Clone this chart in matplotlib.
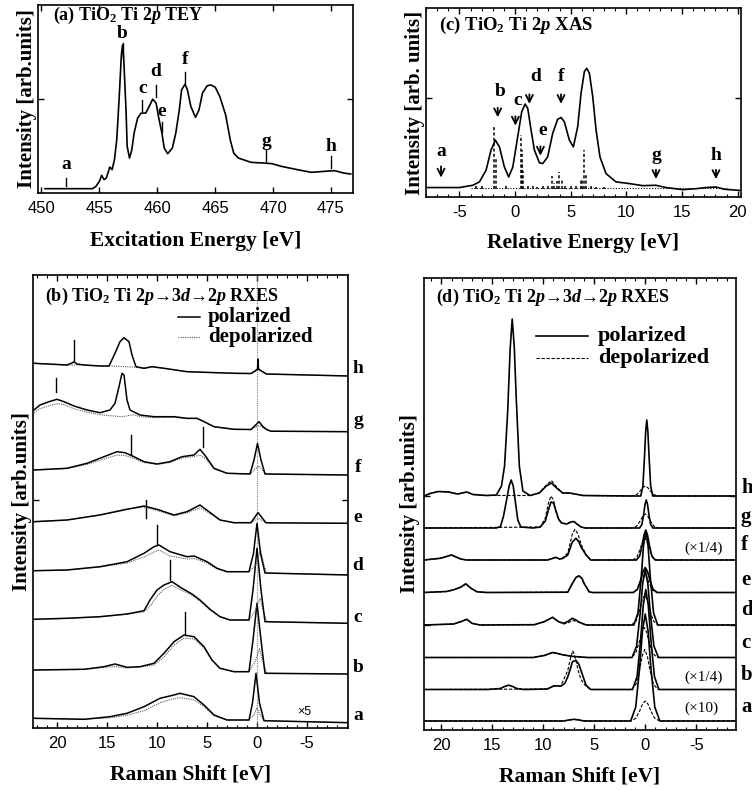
import matplotlib
matplotlib.use('Agg')
import matplotlib.pyplot as plt
import matplotlib.transforms as mtrans

plt.rcParams['font.family'] = ['Liberation Serif', 'DejaVu Serif']
plt.rcParams['mathtext.fontset'] = 'custom'
plt.rcParams['mathtext.rm'] = 'Liberation Serif:bold'
plt.rcParams['mathtext.it'] = 'Liberation Serif:italic:bold'
plt.rcParams['mathtext.bf'] = 'Liberation Serif:bold'
plt.rcParams['axes.unicode_minus'] = False

# ---------------- (a) TEY spectrum: (energy, intensity) ----------------
tey_pts = [(450.3, 0.023), (454.4, 0.023), (454.7, 0.035), (455.0, 0.062), (455.2, 0.094),
           (455.4, 0.071), (455.6, 0.080), (455.9, 0.138), (456.1, 0.124), (456.3, 0.177),
           (456.5, 0.283), (456.7, 0.496), (456.9, 0.735), (457.0, 0.788), (457.1, 0.717),
           (457.3, 0.442), (457.4, 0.248), (457.6, 0.186), (457.8, 0.230), (458.0, 0.319),
           (458.3, 0.398), (458.6, 0.425), (459.0, 0.425), (459.3, 0.460), (459.6, 0.499),
           (459.9, 0.478), (460.1, 0.407), (460.4, 0.319), (460.6, 0.239), (460.9, 0.209),
           (461.3, 0.239), (461.6, 0.319), (461.9, 0.442), (462.1, 0.549), (462.4, 0.579),
           (462.6, 0.549), (462.9, 0.460), (463.3, 0.402), (463.6, 0.442), (463.9, 0.531),
           (464.3, 0.570), (464.6, 0.575), (465.0, 0.563), (465.4, 0.513), (465.9, 0.416),
           (466.3, 0.283), (466.6, 0.212), (467.0, 0.186), (468.1, 0.163), (469.3, 0.159),
           (469.9, 0.156), (470.7, 0.142), (472.1, 0.124), (473.3, 0.110), (474.4, 0.115),
           (475.3, 0.119), (476.1, 0.106), (476.7, 0.101)]
# letter, x, label y, tick bottom, tick top
tey_marks = [('a', 452.1, 0.15, 0.035, 0.08), ('b', 457.0, 0.85, 0.72, 0.80),
             ('c', 458.7, 0.557, 0.434, 0.496), ('d', 459.9, 0.646, 0.51, 0.575),
             ('e', 460.4, 0.434, 0.322, 0.38), ('f', 462.4, 0.708, 0.584, 0.646),
             ('g', 469.4, 0.274, 0.168, 0.23), ('h', 475.0, 0.248, 0.133, 0.195)]

# ---------------- (c) XAS calculation ----------------
xas_pts = [(-7.84, 0.050), (-5.0, 0.050), (-3.8, 0.062), (-3.2, 0.080), (-2.6, 0.142),
           (-2.16, 0.248), (-1.77, 0.301), (-1.4, 0.265), (-0.96, 0.159), (-0.57, 0.106),
           (-0.2, 0.159), (0.24, 0.319), (0.6, 0.451), (0.9, 0.492), (1.14, 0.469),
           (1.44, 0.354), (1.74, 0.248), (2.19, 0.181), (2.49, 0.177), (2.93, 0.212),
           (3.38, 0.336), (3.83, 0.411), (4.13, 0.421), (4.43, 0.398), (4.88, 0.301),
           (5.24, 0.265), (5.63, 0.372), (5.93, 0.549), (6.23, 0.664), (6.44, 0.681),
           (6.68, 0.655), (6.98, 0.531), (7.28, 0.354), (7.63, 0.212), (8.17, 0.124),
           (9.07, 0.080), (10.27, 0.071), (11.47, 0.060), (12.66, 0.062), (13.56, 0.050),
           (15.06, 0.039), (16.26, 0.044), (17.16, 0.050), (18.05, 0.053), (18.8, 0.041),
           (20.15, 0.035)]
stick_pos = [-3.5, -3.0, -1.85, -1.75, -0.8, 0.5, 0.58, 0.66, 0.74, 1.2, 1.6, 2.0, 2.5, 3.0,
             3.35, 3.5, 3.8, 3.95, 4.2, 4.5, 5.0, 5.5, 5.9, 6.05, 6.2, 6.35, 6.8, 7.3, 8.0]
stick_top = [0.062, 0.066, 0.37, 0.21, 0.062, 0.33, 0.25, 0.19, 0.14, 0.058, 0.056, 0.055,
             0.058, 0.06, 0.11, 0.075, 0.085, 0.13, 0.09, 0.07, 0.06, 0.062, 0.09, 0.10,
             0.25, 0.12, 0.06, 0.055, 0.052]
stick_base = 0.044
# letter, x, label x, label y, arrow tail, arrow tip
xas_marks = [('a', -6.65, -6.65, 0.239, 0.177, 0.088), ('b', -1.56, -1.35, 0.558, 0.487, 0.407),
             ('c', 0.03, 0.24, 0.513, 0.442, 0.363), ('d', 1.29, 1.83, 0.637, 0.558, 0.478),
             ('e', 2.28, 2.49, 0.354, 0.283, 0.204), ('f', 4.13, 4.13, 0.637, 0.558, 0.478),
             ('g', 12.66, 12.66, 0.221, 0.159, 0.08), ('h', 18.05, 18.05, 0.221, 0.159, 0.08)]

# ---------------- (b) measured RXES (raman shift, height above baseline) ----------------
rxes_a_pol = [(22.3, 4.4), (17.3, 3.4), (14.7, 6), (13.0, 9.4), (11.3, 16), (9.7, 24.4), (8.3, 27.7),
              (7.7, 29.4), (6.3, 26), (5.3, 17.7), (4.3, 7.7), (3.0, 2.7), (0.8, 2.7), (0.45, 19.7),
              (0.1, 49.4), (-0.25, 19.7), (-0.7, 2), (-9.2, 0)]
rxes_a_dep = [(22.3, 4.4), (17.3, 3.4), (14.7, 5), (13.0, 7.5), (11.3, 12), (9.7, 20), (8.3, 24),
              (7.7, 25), (6.3, 23), (5.3, 16), (4.3, 7), (3.0, 2.7), (0.8, 2.7), (0.3, 8), (0.0, 15),
              (-0.3, 8), (-0.7, 2), (-9.2, 0)]
rxes_b_pol = [(22.3, 4), (17.3, 4.7), (15.3, 7.3), (14.2, 10), (13.0, 6.7), (11.7, 7.3), (10.3, 10.7),
              (9.3, 20.7), (8.3, 32.3), (7.3, 39), (6.3, 37.3), (5.3, 27.3), (4.5, 14), (3.7, 5.7),
              (2.3, 2.3), (0.8, 2.3), (0.4, 34), (0.0, 70.7), (-0.4, 34), (-0.8, 0.7), (-9.2, 0)]
rxes_b_dep = [(22.3, 4), (17.3, 4.7), (15.3, 6.5), (14.2, 7.5), (13.0, 6), (11.7, 7), (10.3, 9),
              (9.3, 17), (8.3, 29), (7.3, 36), (6.3, 35), (5.3, 26), (4.5, 13.5), (3.7, 5.7),
              (2.3, 2.3), (0.8, 2.3), (0.2, 12), (-0.25, 25), (-0.65, 10), (-1.0, 0.7), (-9.2, 0)]
rxes_c_pol = [(22.3, 4), (19.0, 5), (15.7, 6.6), (13.0, 9.3), (11.3, 12.6), (10.7, 23.3), (10.0, 33.3),
              (9.3, 38.3), (8.5, 41.6), (7.5, 35), (6.5, 29.3), (5.7, 23.3), (4.7, 14), (3.7, 6.6),
              (2.7, 3.3), (0.8, 3.3), (0.4, 33.3), (0.0, 75), (-0.4, 33.3), (-0.8, 1.6), (-9.2, 0)]
rxes_c_dep = [(22.3, 4), (19.0, 5), (15.7, 6.6), (13.0, 9), (11.3, 11.5), (10.7, 17), (10.0, 27),
              (9.3, 34), (8.5, 38), (7.5, 33), (6.5, 28), (5.7, 22), (4.7, 13.5), (3.7, 6.6),
              (2.7, 3.3), (0.8, 3.3), (0.2, 12), (-0.3, 25), (-0.7, 10), (-1.0, 1.6), (-9.2, 0)]
rxes_d_pol = [(22.3, 4.3), (19.0, 5), (15.7, 8.3), (13.0, 13.3), (11.3, 21.7), (10.3, 28.3), (9.8, 30),
              (8.7, 23.3), (7.0, 18.3), (6.3, 19), (5.0, 13.3), (4.0, 6.7), (3.0, 3.3), (0.8, 3.3),
              (0.35, 21.7), (0.0, 51.7), (-0.35, 21.7), (-0.8, 2), (-9.2, 0)]
rxes_d_dep = [(22.3, 4.3), (19.0, 5), (15.7, 8), (13.0, 12), (11.3, 18), (10.3, 23), (9.8, 25),
              (8.7, 19), (7.0, 16), (6.3, 16.5), (5.0, 12), (4.0, 6), (3.0, 3.3), (0.8, 3.3),
              (0.1, 10), (-0.35, 25), (-0.7, 10), (-1.0, 2), (-9.2, 0)]
rxes_e_pol = [(22.3, 1.6), (19.0, 3.3), (15.7, 8.3), (13.0, 14), (11.3, 17.3), (10.0, 14), (8.3, 8.3),
              (7.0, 11.6), (5.7, 18.3), (4.8, 11.6), (3.7, 3.3), (2.3, 0.6), (0.6, 0.6), (-0.1, 10.7),
              (-0.9, 0.5), (-9.2, 0)]
rxes_e_dep = [(22.3, 1.6), (19.0, 3.3), (15.7, 8.5), (13.0, 14.5), (11.3, 16), (10.0, 13), (8.3, 7.5),
              (7.0, 10.5), (5.7, 15.5), (4.8, 10.5), (3.7, 3.3), (2.3, 0.6), (0.6, 0.6), (-0.1, 5),
              (-0.9, 0.5), (-9.2, 0)]
rxes_f_pol = [(22.3, 5), (19.0, 6.7), (17.0, 11.7), (15.3, 18.3), (14.0, 23.3), (13.2, 22.3), (12.3, 18.3),
              (11.3, 13.3), (10.0, 11), (8.7, 13.3), (7.5, 18.3), (6.3, 20), (5.7, 25.7), (5.1, 18.3),
              (4.3, 6.7), (3.0, 1.7), (0.7, 1), (0.3, 15), (-0.05, 31.7), (-0.4, 15), (-0.8, 1), (-9.2, 0)]
rxes_f_dep = [(22.3, 5), (19.0, 6.5), (17.0, 10.5), (15.3, 16), (14.0, 20), (13.2, 19.5), (12.3, 16.5),
              (11.3, 12.5), (10.0, 10.5), (8.7, 12.5), (7.5, 17), (6.3, 18.5), (5.7, 20), (5.1, 16),
              (4.3, 6), (3.0, 1.7), (0.7, 1), (0.2, 6), (-0.2, 9), (-0.6, 4), (-1.0, 1), (-9.2, 0)]
rxes_g_pol = [(22.3, 21.7), (21.7, 26.7), (20.8, 30), (20.0, 32.4), (19.3, 30), (18.3, 25.7), (17.0, 21.7),
              (15.7, 19), (14.7, 21.7), (14.2, 28.4), (13.8, 45), (13.5, 58.4), (13.3, 56.7), (13.0, 31.7),
              (12.7, 21.7), (11.7, 16.7), (10.3, 15), (8.3, 15), (7.0, 13.4), (6.0, 13.4), (5.3, 10),
              (4.3, 5), (2.3, 2.4), (0.6, 2.2), (0.2, 6), (-0.2, 10), (-0.6, 5), (-1.0, 2), (-1.4, 0.5),
              (-9.2, 0)]
rxes_g_dep = [(22.3, 19), (21.7, 23), (20.8, 26), (20.0, 28), (19.3, 27), (18.3, 23), (17.0, 19.5),
              (15.7, 17), (14.7, 16), (13.5, 15), (12.3, 17), (11.7, 15), (10.3, 14), (8.3, 14.5),
              (7.0, 13), (6.0, 13), (5.3, 10), (4.3, 5), (2.3, 2.4), (0.6, 2.2), (0.1, 5), (-0.3, 6),
              (-0.8, 2.5), (-1.4, 0.5), (-9.2, 0)]
rxes_h_pol = [(22.3, 12.7), (19.0, 11), (18.5, 13), (18.3, 14.3), (18.0, 12), (17.3, 11), (15.7, 10),
              (14.8, 10), (14.2, 22.7), (13.7, 34.3), (13.3, 38.3), (12.8, 34.3), (12.5, 21), (12.1, 9.3),
              (11.3, 7.7), (10.5, 9.3), (9.3, 7.7), (7.0, 4.3), (2.3, 2.7), (0.6, 2.5), (0.2, 5),
              (-0.05, 7), (-0.1, 17), (-0.15, 7), (-0.45, 5), (-0.95, 2), (-9.2, 0)]
rxes_h_dep = [(22.3, 12.7), (19.0, 11), (17.3, 11), (15.7, 10), (14.8, 10), (13.5, 9.5), (12.5, 9),
              (11.3, 7.7), (10.5, 9.3), (9.3, 7.7), (7.0, 4.3), (2.3, 2.7), (0.6, 2.5), (0.1, 5),
              (-0.15, 6), (-0.5, 4), (-0.9, 2), (-9.2, 0)]
rxes_offsets = [5.3, 54, 104.7, 153, 204.7, 253, 296.3, 352]
rxes_letters = ['a', 'b', 'c', 'd', 'e', 'f', 'g', 'h']
rxes_letter_y = [13, 61, 111, 163, 211, 261, 308, 360]
# vertical bars: x, bottom, top
rxes_bars = [(18.3, 368, 388), (20.07, 336, 350), (12.57, 273, 293), (5.4, 281, 301),
             (11.1, 210, 228), (10.0, 183, 203), (8.67, 148, 168), (7.17, 93, 116)]

# ---------------- (d) calculated RXES ----------------
calc_a_pol = [(21.7, 0), (8.0, 0), (7.5, 1), (7.0, 1.7), (6.5, 1), (6.0, 0), (1.43, 0), (0.935, 14),
              (0.55, 53.5), (0.275, 90), (0, 107), (-0.275, 90), (-0.55, 53.5), (-0.935, 14),
              (-1.43, 0), (-8.9, 0)]
calc_a_dep = [(21.7, 0), (8.0, 0), (7.5, 1), (7.0, 1.7), (6.5, 1), (6.0, 0), (1.43, 0), (0.935, 2.6),
              (0.55, 10), (0.275, 16.8), (0, 20), (-0.275, 16.8), (-0.55, 10), (-0.935, 2.6),
              (-1.43, 0), (-8.9, 0)]
calc_b_pol = [(21.7, 0), (15.5, 0), (14.2, 1), (13.8, 3), (13.4, 4.3), (13.0, 3), (12.6, 1), (11.9, 0),
              (9.6, 0.5), (8.95, 3.7), (8.5, 3.5), (8.3, 3.3), (7.9, 6), (7.6, 12.7), (7.3, 22),
              (7.15, 27.7), (6.8, 29.3), (6.5, 25), (6.3, 19), (6.0, 10), (5.8, 4.3), (5.35, 0),
              (1.25, 0), (0.8, 13), (0.45, 50), (0.2, 84), (-0.05, 100), (-0.3, 84), (-0.55, 50),
              (-0.9, 13), (-1.35, 0), (-8.9, 0)]
calc_b_dep = [(21.7, 0), (9.6, 0.5), (8.95, 3.7), (8.3, 3.3), (7.6, 19), (7.3, 33), (7.1, 38.7),
              (6.9, 33), (6.6, 20), (6.3, 10), (5.8, 3), (5.35, 0), (1.35, 0), (0.9, 5.2), (0.55, 20),
              (0.3, 33.6), (0.05, 40), (-0.2, 33.6), (-0.45, 20), (-0.8, 5.2), (-1.25, 0), (-8.9, 0)]
calc_c_pol = [(21.7, 0), (11.0, 0), (9.9, 2), (9.1, 5), (8.6, 4), (8.1, 2.7), (7.5, 1.7), (7.0, 1),
              (5.7, 0), (1.3, 0), (0.85, 11.4), (0.5, 44), (0.25, 74), (0, 88), (-0.25, 74),
              (-0.5, 44), (-0.85, 11.4), (-1.3, 0), (-8.9, 0)]
calc_c_dep = [(21.7, 0), (11.0, 0), (9.9, 2), (9.1, 5), (8.6, 4), (8.1, 2.7), (7.5, 1.7), (7.0, 1),
              (5.7, 0), (1.4, 0), (0.95, 4), (0.6, 15), (0.35, 25), (0.1, 30), (-0.15, 25),
              (-0.4, 15), (-0.75, 4), (-1.2, 0), (-8.9, 0)]
calc_d_pol = [(21.7, 0), (18.8, 1), (18.1, 3.3), (17.5, 5.7), (17.0, 1.7), (16.2, 0), (10.9, 0.3),
              (9.9, 3.3), (9.1, 7.7), (8.5, 3.3), (8.0, 1.7), (7.6, 3.5), (7.15, 6.7), (6.8, 5),
              (6.5, 3), (5.8, 0), (1.12, 0), (0.715, 12), (0.4, 47), (0.175, 79), (-0.05, 94),
              (-0.275, 79), (-0.5, 47), (-0.815, 12), (-1.22, 0), (-8.9, 0)]
calc_d_dep = [(21.7, 0), (18.8, 1), (18.1, 3.3), (17.5, 5.7), (17.0, 1.7), (16.2, 0), (10.9, 0.3),
              (9.9, 3.3), (9.1, 7.7), (8.5, 3.3), (8.0, 1.0), (7.6, 2), (7.15, 4.3), (6.8, 4),
              (6.5, 2.5), (5.8, 0), (1.35, 0), (0.9, 4), (0.55, 15), (0.3, 25), (0.05, 30),
              (-0.2, 25), (-0.45, 15), (-0.8, 4), (-1.25, 0), (-8.9, 0)]
calc_e_pol = [(21.7, 0), (19.5, 1), (18.8, 2.7), (18.1, 5.3), (17.6, 8.7), (17.1, 4.3), (16.5, 0.7),
              (15.5, 0), (7.6, 0.3), (7.15, 9), (6.8, 15), (6.5, 16.7), (6.2, 14), (6.0, 9), (5.5, 0.7),
              (5.2, 0), (1.17, 0), (0.765, 3.3), (0.45, 12.5), (0.225, 21), (0, 25), (-0.225, 21),
              (-0.45, 12.5), (-0.765, 3.3), (-1.17, 0), (-8.9, 0)]
calc_e_dep = [(21.7, 0), (19.5, 1), (18.8, 2.7), (18.1, 5.3), (17.6, 8.7), (17.1, 4.3), (16.5, 0.7),
              (15.5, 0), (7.6, 0.3), (7.15, 9), (6.8, 15), (6.5, 16.7), (6.2, 14), (6.0, 9), (5.5, 0.7),
              (5.2, 0), (1.22, 0), (0.815, 2.3), (0.5, 9), (0.275, 15), (0.05, 18), (-0.175, 15),
              (-0.4, 9), (-0.715, 2.3), (-1.12, 0), (-8.9, 0)]
calc_f_pol = [(21.7, 0), (20.1, 1.7), (19.0, 5), (18.1, 1), (17.5, 0), (9.6, 0), (9.1, 1.5), (8.8, 2.7),
              (8.4, 1), (8.1, 1.5), (7.6, 5), (7.15, 18), (6.8, 21.7), (6.5, 18), (6.3, 13), (5.8, 5),
              (5.35, 0), (0.86, 0), (0.55, 3.9), (0.3, 15), (0.125, 25), (-0.05, 30), (-0.225, 25),
              (-0.4, 15), (-0.65, 3.9), (-0.96, 0), (-8.9, 0)]
calc_f_dep = [(21.7, 0), (20.1, 1.7), (19.0, 5), (18.1, 1), (17.5, 0), (9.6, 0), (9.1, 1.5), (8.8, 2.7),
              (8.4, 1), (8.1, 2), (7.6, 7), (7.15, 26), (6.9, 30.7), (6.6, 26), (6.3, 16), (5.8, 5),
              (5.35, 0), (1.22, 0), (0.815, 2.9), (0.5, 11), (0.275, 18.5), (0.05, 22), (-0.175, 18.5),
              (-0.4, 11), (-0.715, 2.9), (-1.12, 0), (-8.9, 0)]
calc_g_pol = [(21.7, 0), (14.6, 0), (14.2, 1.5), (13.9, 12), (13.6, 28), (13.35, 42), (13.15, 48),
              (12.95, 42), (12.75, 27), (12.5, 8), (12.2, 1), (11.0, 0), (10.3, 1), (9.8, 7), (9.5, 18),
              (9.25, 26), (9.0, 25), (8.75, 17), (8.5, 9), (8.2, 5), (7.7, 4), (7.3, 6), (7.0, 6.5),
              (6.7, 4), (6.3, 1), (5.9, 0), (0.55, 0), (0.325, 3.6), (0.15, 14), (0.025, 23.5),
              (-0.1, 28), (-0.225, 23.5), (-0.35, 14), (-0.525, 3.6), (-0.75, 0), (-8.9, 0)]
calc_g_dep = [(21.7, 0), (10.3, 1), (9.8, 10), (9.5, 25), (9.25, 32), (9.0, 28), (8.75, 16), (8.5, 8),
              (8.2, 5), (7.7, 4), (7.3, 6), (7.0, 6.5), (6.7, 4), (6.3, 1), (5.9, 0), (1.3, 0),
              (0.85, 1.8), (0.5, 7), (0.25, 11.8), (0, 14), (-0.25, 11.8), (-0.5, 7), (-0.85, 1.8),
              (-1.3, 0), (-8.9, 0)]
calc_h_pol = [(21.7, 0), (21.1, 2.5), (20.3, 4.5), (19.3, 4), (18.4, 2), (17.5, 4), (16.9, 1.5),
              (15.6, 0.5), (14.6, 1), (14.1, 10), (13.8, 30), (13.5, 83), (13.25, 147), (13.05, 177),
              (12.85, 150), (12.65, 97), (12.35, 30), (12.0, 5), (11.3, 0.5), (10.4, 3), (9.7, 10),
              (9.2, 13), (8.7, 8), (8.1, 3), (7.4, 3), (6.9, 2), (6.1, 0.5), (1.5, 0), (0.44, 0),
              (0.23, 10), (0.08, 38), (-0.04, 64), (-0.15, 76), (-0.26, 64), (-0.38, 38),
              (-0.53, 10), (-0.74, 0), (-8.9, 0)]
calc_h_dep = [(21.7, 0), (21.1, 2.5), (20.3, 4.5), (19.3, 4), (18.4, 2), (17.5, 4), (16.9, 1.5),
              (15.6, 0.5), (14.6, 0.5), (11.3, 0.5), (10.4, 3), (9.7, 11), (9.2, 15.5), (8.7, 9),
              (8.1, 3), (7.4, 3), (6.9, 2), (6.1, 0.5), (1.3, 0), (0.85, 1.3), (0.5, 5), (0.25, 8.4),
              (0, 10), (-0.25, 8.4), (-0.5, 5), (-0.85, 1.3), (-1.3, 0), (-8.9, 0)]
calc_offsets = [9, 40.5, 72.5, 105, 137.5, 170, 202, 234]
calc_letter_y = [23, 55, 87, 120, 150, 185, 213, 242]

rxes_pol = [rxes_a_pol, rxes_b_pol, rxes_c_pol, rxes_d_pol, rxes_e_pol, rxes_f_pol, rxes_g_pol, rxes_h_pol]
rxes_dep = [rxes_a_dep, rxes_b_dep, rxes_c_dep, rxes_d_dep, rxes_e_dep, rxes_f_dep, rxes_g_dep, rxes_h_dep]
calc_pol = [calc_a_pol, calc_b_pol, calc_c_pol, calc_d_pol, calc_e_pol, calc_f_pol, calc_g_pol, calc_h_pol]
calc_dep = [calc_a_dep, calc_b_dep, calc_c_dep, calc_d_dep, calc_e_dep, calc_f_dep, calc_g_dep, calc_h_dep]

rxes_title = r'TiO$_2$ Ti 2$p$' + '→3' + r'$d$' + '→2' + r'$p$ RXES'

W, H = 752, 790
fig = plt.figure(figsize=(W / 100, H / 100), dpi=100)


def make_axes(left, top, right, bottom):
    return fig.add_axes([left / W, 1 - bottom / H, (right - left) / W, (bottom - top) / H])


def style(ax, xticks, xlim, ylim, yticks, xlabel, ylabel, ylab_x, xlab_y):
    ax.set_xlim(*xlim)
    ax.set_ylim(*ylim)
    ax.set_xticks(xticks, labels=[str(t) for t in xticks], fontfamily='Liberation Sans', fontsize=12)
    ax.set_yticks(yticks, labels=[])
    ax.tick_params(direction='in', top=True, right=True, length=4, width=1, pad=6)
    ax.tick_params(which='minor', direction='in', top=True, length=2, width=0.8)
    for s in ax.spines.values():
        s.set_linewidth(1.2)
    ax.set_xlabel(xlabel, fontsize=15.5, fontweight='bold')
    ax.set_ylabel(ylabel, fontsize=15, fontweight='bold')
    ax.xaxis.set_label_coords(0.5, xlab_y)
    ax.yaxis.set_label_coords(ylab_x, 0.5)


def xy(pts):
    return [p[0] for p in pts], [p[1] for p in pts]


# ---- (a)
ax = make_axes(38, 5, 353, 193)
x, y = xy(tey_pts)
ax.plot(x, y, color='black', lw=1.2)
for name, xm, ly, b0, b1 in tey_marks:
    ax.plot([xm, xm], [b0, b1], color='black', lw=1.0)
    ax.text(xm, ly, name, ha='center', va='center', fontsize=14, fontweight='bold')
ax.text(0.048, 0.945, r'(a) TiO$_2$ Ti 2$p$ TEY', transform=ax.transAxes, fontsize=13,
        fontweight='bold', va='center')
style(ax, [450, 455, 460, 465, 470, 475], (449.7, 476.9), (0, 1), [0.5],
      'Excitation Energy [eV]', 'Intensity [arb.units]', -0.004, -0.2)

# ---- (c)
ax = make_axes(426, 8, 741, 197)
ax.plot([-4, 19], [0.047, 0.047], color='black', lw=0.8, ls=(0, (1, 1.5)))
ax.vlines(stick_pos, stick_base, stick_top, colors='black', lw=1.1, linestyles=(0, (2, 1.5)))
x, y = xy(xas_pts)
ax.plot(x, y, color='black', lw=1.2)
for name, xa, lx, ly, t0, t1 in xas_marks:
    ax.annotate('', xy=(xa, t1), xytext=(xa, t0),
                arrowprops=dict(arrowstyle='->,head_length=0.5,head_width=0.25', lw=1.3, color='black'))
    ax.text(lx, ly, name, ha='center', va='center', fontsize=14, fontweight='bold')
ax.text(0.041, 0.91, r'(c) TiO$_2$ Ti 2$p$ XAS', transform=ax.transAxes, fontsize=13.5,
        fontweight='bold', va='center')
ax.set_xticks(range(-8, 21), minor=True)
style(ax, [-5, 0, 5, 10, 15, 20], (-8, 20.3), (0, 1), [0.522],
      'Relative Energy [eV]', 'Intensity [arb. units]', -0.004, -0.19)

# ---- (b)
ax = make_axes(33, 275, 348, 728)
ax.axvline(0, color='0.5', lw=0.8, ls=(0, (1, 1)))
for off, pol, dep in zip(rxes_offsets, rxes_pol, rxes_dep):
    x, y = xy(dep)
    ax.plot(x, [v + off for v in y], color='0.35', lw=0.8, ls=(0, (1, 1)))
    x, y = xy(pol)
    ax.plot(x, [v + off for v in y], color='black', lw=1.1)
for xm, b0, b1 in rxes_bars:
    ax.plot([xm, xm], [b0, b1], color='black', lw=1.0)
tr = mtrans.blended_transform_factory(ax.transAxes, ax.transData)
for name, ly in zip(rxes_letters, rxes_letter_y):
    ax.text(1.032, ly, name, transform=tr, ha='center', va='center', fontsize=14,
            fontweight='bold', clip_on=False)
ax.text(0.86, 16, '×5', transform=tr, ha='center', va='center', fontsize=9,
        fontfamily='Liberation Sans')
ax.text(0.038, 0.953, '(b) ' + rxes_title, transform=ax.transAxes, fontsize=13,
        fontweight='bold', va='center')
ax.plot([0.46, 0.53], [0.907, 0.907], transform=ax.transAxes, color='black', lw=1.1)
ax.plot([0.46, 0.53], [0.863, 0.863], transform=ax.transAxes, color='0.35', lw=0.8, ls=(0, (1, 1)))
ax.text(0.556, 0.907, 'polarized', transform=ax.transAxes, fontsize=15, fontweight='bold', va='center')
ax.text(0.556, 0.863, 'depolarized', transform=ax.transAxes, fontsize=15, fontweight='bold', va='center')
ax.set_xticks(range(-9, 23), minor=True)
style(ax, [20, 15, 10, 5, 0, -5], (22.4, -9.1), (0, 453), [228],
      'Raman Shift [eV]', 'Intensity [arb.units]', -0.004, -0.08)

# ---- (d)
ax = make_axes(424, 278, 736, 730)
for off, pol, dep in zip(calc_offsets, calc_pol, calc_dep):
    x, y = xy(dep)
    ax.plot(x, [v + off for v in y], color='black', lw=0.8, ls=(0, (3, 1.5)))
    x, y = xy(pol)
    ax.plot(x, [v + off for v in y], color='black', lw=1.2)
tr = mtrans.blended_transform_factory(ax.transAxes, ax.transData)
for name, ly in zip(rxes_letters, calc_letter_y):
    ax.text(1.016, ly, name, transform=tr, ha='left', va='center', fontsize=15,
            fontweight='bold', clip_on=False)
ax.text(0.897, 182, '(×1/4)', transform=tr, ha='center', va='center', fontsize=11)
ax.text(0.897, 53, '(×1/4)', transform=tr, ha='center', va='center', fontsize=11)
ax.text(0.89, 22, '(×10)', transform=tr, ha='center', va='center', fontsize=11)
ax.text(0.038, 0.958, '(d) ' + rxes_title, transform=ax.transAxes, fontsize=13,
        fontweight='bold', va='center')
ax.plot([0.36, 0.526], [0.872, 0.872], transform=ax.transAxes, color='black', lw=1.2)
ax.plot([0.36, 0.526], [0.822, 0.822], transform=ax.transAxes, color='black', lw=0.8, ls=(0, (3, 1.5)))
ax.text(0.558, 0.872, 'polarized', transform=ax.transAxes, fontsize=16, fontweight='bold', va='center')
ax.text(0.558, 0.822, 'depolarized', transform=ax.transAxes, fontsize=16, fontweight='bold', va='center')
ax.set_xticks(range(-8, 22), minor=True)
style(ax, [20, 15, 10, 5, 0, -5], (21.7, -8.9), (0, 452), [234, 105],
      'Raman Shift [eV]', 'Intensity [arb.units]', -0.012, -0.08)

fig.savefig('out.png', dpi=100)
